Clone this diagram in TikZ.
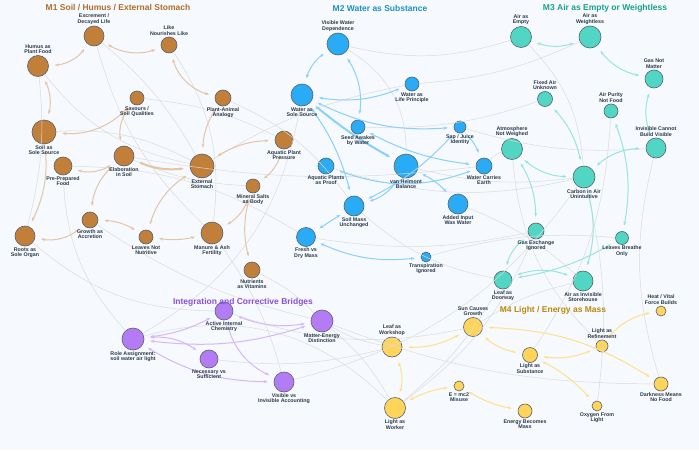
\documentclass[tikz,border=0pt]{standalone}
\usepackage{fontspec}
\setmainfont{Liberation Sans}
\usetikzlibrary{arrows.meta}
\definecolor{bg}{HTML}{F6F9FD}
\definecolor{cA}{HTML}{C27F3A}
\definecolor{cB}{HTML}{2AABF5}
\definecolor{cC}{HTML}{52D6C4}
\definecolor{cD}{HTML}{FFD45A}
\definecolor{cE}{HTML}{B47CF4}
\definecolor{tA}{HTML}{B06E2C}
\definecolor{tB}{HTML}{1E90C8}
\definecolor{tC}{HTML}{1AA08A}
\definecolor{tD}{HTML}{B88A10}
\definecolor{tE}{HTML}{8A4FE0}
\definecolor{lab}{HTML}{2B3A4A}
\tikzset{
 nd/.style={circle,draw=lab!80,line width=0.6pt,inner sep=0pt},
 A/.style={nd,fill=cA},B/.style={nd,fill=cB},C/.style={nd,fill=cC},D/.style={nd,fill=cD},E/.style={nd,fill=cE},
 lb/.style={font=\bfseries\fontsize{5.3}{5.6}\selectfont,text=lab,align=center,inner sep=1pt},
 ttl/.style={font=\bfseries\fontsize{8.5}{9}\selectfont},
 ea/.style={draw=cA!45,line width=1pt,{Stealth[length=4pt]}-{Stealth[length=4pt]},shorten >=6pt,shorten <=6pt},
 eb/.style={ea,draw=cB!55},ec/.style={ea,draw=cC!60},ed/.style={ea,draw=cD!70},ee/.style={ea,draw=cE!55},
 g/.style={draw=gray!28,line width=0.5pt},
}
\begin{document}
\begin{tikzpicture}[x=1pt,y=-1pt]
\fill[bg] (0,0) rectangle (699,450);
\useasboundingbox (0,0) rectangle (699,450);
\def\N#1#2#3#4#5{\node[#1,minimum size=#5pt] (#2) at (#3,#4) {};}
\N{A}{excr}{94}{36}{20}\N{A}{like}{169}{45}{16}\N{A}{humus}{38}{66}{21}
\N{A}{savour}{137}{98}{14}\N{A}{pa}{223}{98}{16}\N{A}{soil}{44}{132}{24}
\N{A}{prep}{63}{166}{18}\N{A}{elab}{124}{156}{20}\N{A}{ext}{202}{166}{24}
\N{A}{aqp}{284}{140}{18}\N{A}{min}{253}{186}{14}\N{A}{growth}{90}{220}{16}
\N{A}{lnot}{146}{237}{14}\N{A}{roots}{25}{236}{20}\N{A}{man}{212}{233}{22}
\N{A}{nut}{252}{270}{16}
\N{B}{vis}{338}{44}{22}\N{B}{wlife}{412}{84}{14}\N{B}{wsole}{302}{95}{22}
\N{B}{seed}{358}{127}{14}\N{B}{sap}{460}{127}{12}\N{B}{aproof}{326}{166}{16}
\N{B}{vanh}{406}{166}{24}\N{B}{wce}{484}{166}{16}\N{B}{smass}{354}{206}{20}
\N{B}{added}{458}{204}{20}\N{B}{fresh}{306}{237}{19}\N{B}{transp}{426}{257}{10}
\N{C}{aempty}{521}{37}{21}\N{C}{aweight}{590}{37}{22}\N{C}{gas}{654}{79}{18}
\N{C}{fixed}{545}{99}{15}\N{C}{purity}{611}{111}{14}\N{C}{atmos}{512}{149}{21}
\N{C}{invis}{656}{148}{20}\N{C}{carbon}{584}{177}{22}\N{C}{gasex}{536}{231}{16}
\N{C}{lbr}{622}{238}{13}\N{C}{ldoor}{503}{280}{18}\N{C}{ainv}{583}{281}{20}
\N{D}{heat}{661}{311}{10}\N{D}{sun}{473}{327}{19}\N{D}{lwork}{392}{347}{20}
\N{D}{lref}{602}{346}{12}\N{D}{lsub}{530}{355}{15}\N{D}{dark}{661}{384}{14}
\N{D}{emc}{459}{386}{10}\N{D}{lworker}{395}{408}{21}\N{D}{energy}{525}{411}{14}
\N{D}{oxy}{597}{406}{10}
\N{E}{active}{224}{311}{18}\N{E}{matter}{322}{321}{22}\N{E}{role}{133}{339}{22}
\N{E}{nec}{209}{359}{18}\N{E}{visacc}{284}{382}{20}
% ---------- faint cross links
\foreach \a/\b/\k in {soil/ext/15,humus/ext/-20,excr/man/-15,like/man/20,savour/aqp/10,elab/min/-10,prep/fresh/15,
 roots/active/-20,growth/matter/-10,man/visacc/10,nut/matter/10,wsole/role/25,aproof/carbon/-15,vanh/carbon/-10,
 wce/atmos/15,smass/ldoor/-15,fresh/gasex/-10,wlife/aweight/-10,vis/aempty/-15,sap/invis/-10,seed/fixed/-10,
 added/ainv/10,matter/lwork/-10,matter/lworker/10,role/lworker/30,active/sun/-15,matter/dark/-10,visacc/carbon/-20,
 ldoor/lworker/10,ainv/sun/-10,carbon/oxy/10,invis/dark/-15,purity/lsub/15,gasex/lworker/15,elab/wce/-8,ext/wlife/10,
 nec/lwork/-10,transp/lbr/10,atmos/lref/-20,humus/roots/10,pa/smass/15,excr/ext/10,prep/role/-20,vis/vanh/30,aempty/carbon/20}
 \draw[g] (\a) to[bend left=\k] (\b);
% ---------- colored links
\foreach \a/\b/\k in {humus/excr/-25,excr/like/-25,like/pa/-30,humus/soil/20,savour/soil/25,savour/elab/-25,pa/ext/-15,
 elab/prep/25,soil/roots/15,growth/roots/25,growth/lnot/15,lnot/man/-10,ext/lnot/-20,ext/aqp/15,aqp/min/20,min/man/20,min/nut/-15,elab/growth/-20}
 \draw[ea] (\a) to[bend left=\k] (\b);
\draw[ea,line width=2pt] (elab) to[bend right=15] (ext);
\foreach \a/\b/\k in {vis/wsole/-20,wsole/wlife/-15,vis/seed/20,wsole/sap/-15,wsole/smass/10,seed/wce/-10,aproof/wce/-20,
 vanh/smass/20,vanh/added/10,fresh/transp/-15,sap/wce/10,smass/fresh/0,sap/smass/10}
 \draw[eb] (\a) to[bend left=\k] (\b);
\draw[eb,line width=2pt] (wsole) to[bend right=5] (vanh);
\foreach \a/\b/\k in {aempty/aweight/-20,aweight/gas/-20,gas/invis/-20,fixed/carbon/15,atmos/carbon/-20,atmos/gasex/15,
 invis/carbon/-20,purity/lbr/15,carbon/ainv/15,gasex/ldoor/-20,ldoor/ainv/20,lbr/ldoor/10}
 \draw[ec] (\a) to[bend left=\k] (\b);
\foreach \a/\b/\k in {lwork/sun/-15,lwork/lworker/20,sun/lsub/-15,lsub/lref/-15,sun/dark/15,lref/heat/20,emc/energy/-10,
 emc/lworker/-10,lsub/oxy/10}
 \draw[ed] (\a) to[bend left=\k] (\b);
\foreach \a/\b/\k in {role/matter/-12,role/active/-10,role/nec/20,role/visacc/-15,active/visacc/-25,active/matter/-15}
 \draw[ee] (\a) to[bend left=\k] (\b);
% ---------- labels
\foreach \n/\t in {excr/{Excrement /\\Decayed Life},like/{Like\\Nourishes Like},humus/{Humus as\\Plant Food},
 vis/{Visible Water\\Dependence},aempty/{Air as\\Empty},aweight/{Air as\\Weightless},gas/{Gas Not\\Matter},fixed/{Fixed Air\\Unknown},
 purity/{Air Purity\\Not Food},atmos/{Atmosphere\\Not Weighed},invis/{Invisible Cannot\\Build Visible},heat/{Heat / Vital\\Force Builds},
 sun/{Sun Causes\\Growth},lwork/{Leaf as\\Workshop},lref/{Light as\\Refinement}}
 \node[lb,anchor=south] at (\n.north) {\t};
\foreach \n/\t in {savour/{Savours /\\Soil Qualities},pa/{Plant-Animal\\Analogy},soil/{Soil as\\Sole Source},prep/{Pre-Prepared\\Food},
 elab/{Elaboration\\in Soil},ext/{External\\Stomach},aqp/{Aquatic Plant\\Pressure},min/{Mineral Salts\\as Body},growth/{Growth as\\Accretion},
 lnot/{Leaves Not\\Nutritive},roots/{Roots as\\Sole Organ},man/{Manure \& Ash\\Fertility},nut/{Nutrients\\as Vitamins},
 wlife/{Water as\\Life Principle},wsole/{Water as\\Sole Source},seed/{Seed Awakes\\by Water},sap/{Sap / Juice\\Identity},
 aproof/{Aquatic Plants\\as Proof},vanh/{van Helmont\\Balance},wce/{Water Carries\\Earth},smass/{Soil Mass\\Unchanged},
 added/{Added Input\\Was Water},fresh/{Fresh vs\\Dry Mass},transp/{Transpiration\\Ignored},carbon/{Carbon in Air\\Unintuitive},
 gasex/{Gas Exchange\\Ignored},lbr/{Leaves Breathe\\Only},ldoor/{Leaf as\\Doorway},ainv/{Air as Invisible\\Storehouse},
 lsub/{Light as\\Substance},dark/{Darkness Means\\No Food},emc/{E = mc2\\Misuse},lworker/{Light as\\Worker},energy/{Energy Becomes\\Mass},
 oxy/{Oxygen From\\Light},active/{Active Internal\\Chemistry},matter/{Matter-Energy\\Distinction},role/{Role Assignment:\\soil water air light},
 nec/{Necessary vs\\Sufficient},visacc/{Visible vs\\Invisible Accounting}}
 \node[lb,anchor=north] at (\n.south) {\t};
% ---------- titles
\node[ttl,text=tA] at (118,8) {M1 Soil / Humus / External Stomach};
\node[ttl,text=tB] at (380,8) {M2 Water as Substance};
\node[ttl,text=tC] at (605,8) {M3 Air as Empty or Weightless};
\node[ttl,text=tD] at (553,310) {M4 Light / Energy as Mass};
\node[ttl,text=tE] at (243,302) {Integration and Corrective Bridges};
\end{tikzpicture}
\end{document}
